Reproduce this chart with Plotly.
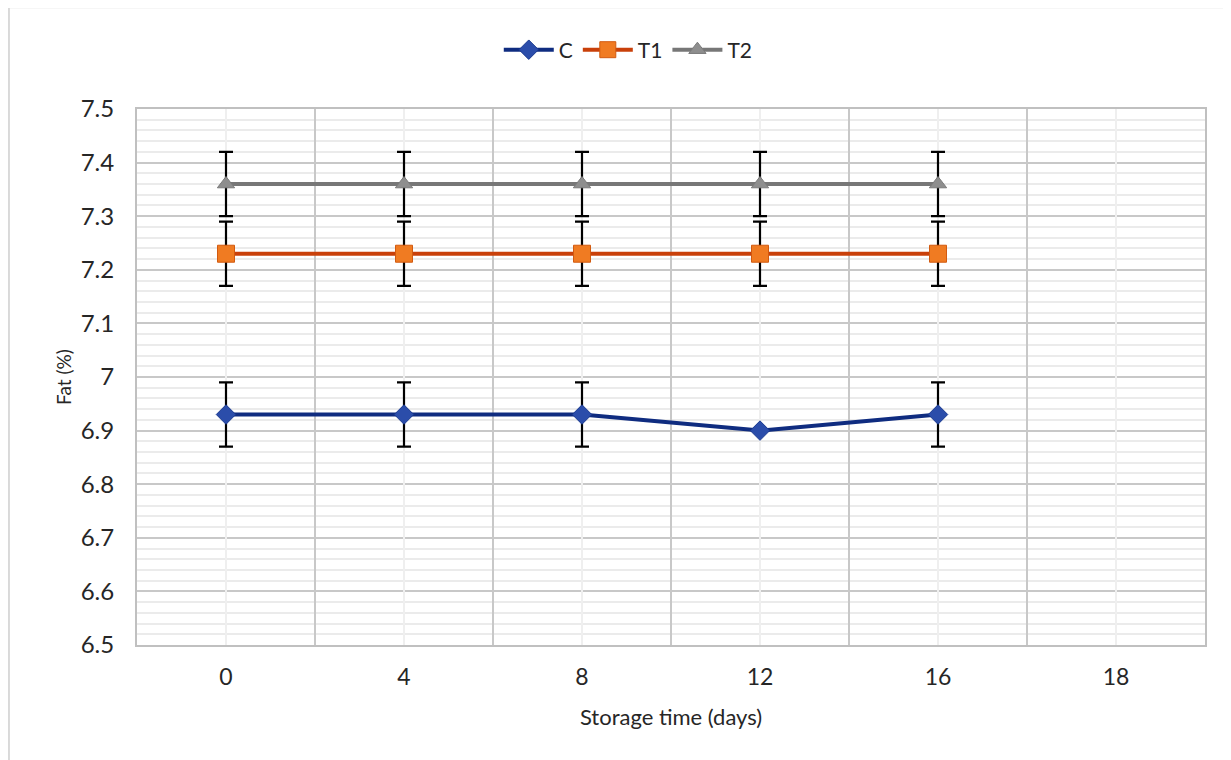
import plotly.graph_objects as go

categories = ["0", "4", "8", "12", "16", "18"]
days = ["0", "4", "8", "12", "16"]
c_vals = [6.93, 6.93, 6.93, 6.90, 6.93]
t1_vals = [7.23, 7.23, 7.23, 7.23, 7.23]
t2_vals = [7.36, 7.36, 7.36, 7.36, 7.36]
c_err = [0.06, 0.06, 0.06, None, 0.06]
t1_err = [0.06, 0.06, 0.06, 0.06, 0.06]
t2_err = [0.06, 0.06, 0.06, 0.06, 0.06]

FONT = "Lato"
TXT = "#262626"
err_style = dict(type="data", visible=True, color="black", thickness=2.2, width=7)

fig = go.Figure()

# light gridlines at category centers (secondary overlaid axis)
fig.add_trace(go.Scatter(x=categories, y=[None]*len(categories), xaxis="x2",
                         showlegend=False, hoverinfo="skip", mode="lines"))

fig.add_trace(go.Scatter(
    x=days, y=c_vals, name="C", mode="lines+markers",
    line=dict(color="#0F2C80", width=4),
    marker=dict(symbol="diamond", size=15, color="#2B4DAA", line=dict(color="#1A3A90", width=1)),
    error_y=dict(array=c_err, **err_style)))
fig.add_trace(go.Scatter(
    x=days, y=t1_vals, name="T1", mode="lines+markers",
    line=dict(color="#C9400A", width=4),
    marker=dict(symbol="square", size=17, color="#F07B22", line=dict(color="#D25A10", width=1)),
    error_y=dict(array=t1_err, **err_style)))
fig.add_trace(go.Scatter(
    x=days, y=t2_vals, name="T2", mode="lines+markers",
    line=dict(color="#777777", width=4),
    marker=dict(symbol="triangle-up", size=15, color="#8E8E8E", line=dict(color="#7A7A7A", width=1)),
    error_y=dict(array=t2_err, **err_style)))

fig.update_layout(
    width=1223, height=752,
    paper_bgcolor="white", plot_bgcolor="white",
    margin=dict(l=129, r=26, t=101, b=115, autoexpand=False),
    font=dict(family=FONT, color=TXT),
    legend=dict(orientation="h", x=0.46, xanchor="center", y=1.11, yanchor="middle",
                font=dict(size=21, family=FONT, color=TXT), itemwidth=50,
                traceorder="normal"),
    xaxis=dict(type="category", categoryorder="array", categoryarray=categories,
               range=[-0.5, 5.5], tickson="boundaries", showgrid=True,
               gridcolor="#C8C8C8", gridwidth=2, showline=True, linecolor="#C0C0C0",
               linewidth=2, mirror=True, ticks="", zeroline=False, automargin=False,
               ticklabelstandoff=10,
               tickfont=dict(size=23, family=FONT, color=TXT),
               title=dict(text="Storage time (days)", font=dict(size=22, family=FONT, color=TXT), standoff=21)),
    xaxis2=dict(type="category", categoryorder="array", categoryarray=categories,
                range=[-0.5, 5.5], overlaying="x", showgrid=True, gridcolor="#EFEFEF",
                gridwidth=2, showticklabels=False, ticks="", showline=False, zeroline=False),
    yaxis=dict(range=[6.5, 7.5], dtick=0.1, tick0=6.5, showgrid=True, gridcolor="#C8C8C8",
               gridwidth=2, showline=True, linecolor="#C0C0C0", linewidth=2, mirror=True,
               ticks="", zeroline=False, ticklabelstandoff=16, automargin=False,
               tickfont=dict(size=24, family=FONT, color=TXT),
               minor=dict(dtick=0.02, tick0=6.5, showgrid=True, gridcolor="#EBEBEB", gridwidth=2),
               title=dict(text="Fat (%)", font=dict(size=19, family=FONT, color=TXT), standoff=4)),
    shapes=[
        dict(type="line", xref="paper", yref="paper", x0=-0.1199, x1=1.03, y0=1.19, y1=1.19,
             line=dict(color="#D9D9D9", width=2)),
        dict(type="line", xref="paper", yref="paper", x0=-0.1199, x1=-0.1199, y0=1.19, y1=-0.23,
             line=dict(color="#D9D9D9", width=2)),
    ],
)

fig.write_html("out.html")
